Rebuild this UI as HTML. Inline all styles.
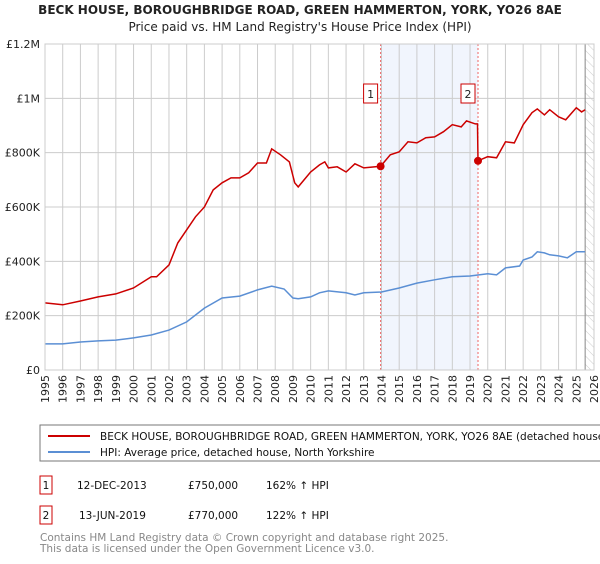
<!DOCTYPE html>
<html><head><meta charset="utf-8"><style>
body{margin:0;background:#fff;width:600px;height:560px;overflow:hidden;font-family:"DejaVu Sans","Liberation Sans",sans-serif}
svg text{font-family:"DejaVu Sans","Liberation Sans",sans-serif}
</style></head><body>
<svg id="c" width="600" height="560" xmlns="http://www.w3.org/2000/svg">
<text x="300" y="14" text-anchor="middle" font-size="12" font-weight="bold" fill="#222">BECK HOUSE, BOROUGHBRIDGE ROAD, GREEN HAMMERTON, YORK, YO26 8AE</text>
<text x="300" y="31" text-anchor="middle" font-size="12" fill="#222">Price paid vs. HM Land Registry's House Price Index (HPI)</text>
<defs><pattern id="hatch" width="6" height="6" patternUnits="userSpaceOnUse" patternTransform="rotate(-45)"><line x1="0" y1="0" x2="0" y2="6" stroke="#ccc" stroke-width="1"/></pattern></defs>
<g id="plot"></g>
<rect x="40" y="425" width="570" height="36" fill="none" stroke="#777"/>
<line x1="48" y1="436" x2="90" y2="436" stroke="#cc0000" stroke-width="2"/>
<text x="100" y="440" font-size="10.5" fill="#111">BECK HOUSE, BOROUGHBRIDGE ROAD, GREEN HAMMERTON, YORK, YO26 8AE (detached house)</text>
<line x1="48" y1="452" x2="90" y2="452" stroke="#5b8fd4" stroke-width="2"/>
<text x="100" y="456" font-size="10.5" fill="#111">HPI: Average price, detached house, North Yorkshire</text>
<g font-size="10.5" fill="#111">
<rect x="40" y="476" width="12" height="18" fill="#fff" stroke="#cc0000"/><text x="46" y="489" text-anchor="middle">1</text>
<text x="77" y="489">12-DEC-2013</text><text x="188" y="489">£750,000</text><text x="266" y="489">162% ↑ HPI</text></g>
<g font-size="10.5" fill="#111">
<rect x="40" y="506" width="12" height="18" fill="#fff" stroke="#cc0000"/><text x="46" y="519" text-anchor="middle">2</text>
<text x="79" y="519">13-JUN-2019</text><text x="188" y="519">£770,000</text><text x="266" y="519">122% ↑ HPI</text></g>
<text x="40" y="541" font-size="10.5" fill="#888">Contains HM Land Registry data © Crown copyright and database right 2025.</text>
<text x="40" y="552" font-size="10.5" fill="#888">This data is licensed under the Open Government Licence v3.0.</text>
</svg>
<script>
const yTicks=[0,200,400,600,800,1000,1200];
const yTickLabels=["£0","£200K","£400K","£600K","£800K","£1M","£1.2M"];
const years=[1995,1996,1997,1998,1999,2000,2001,2002,2003,2004,2005,2006,2007,2008,2009,2010,2011,2012,2013,2014,2015,2016,2017,2018,2019,2020,2021,2022,2023,2024,2025,2026];
const hpiT=[1995,1996,1997,1998,1999,2000,2001,2002,2003,2004,2005,2006,2007,2007.8,2008.5,2009,2009.3,2010,2010.5,2011,2012,2012.5,2013,2014,2015,2016,2017,2018,2019,2019.5,2020,2020.5,2021,2021.8,2022,2022.5,2022.8,2023.2,2023.5,2024,2024.5,2025,2025.5];
const hpiV=[96,96,103,107,110,118,129,147,177,228,265,272,295,309,298,265,262,269,284,291,284,276,284,287,302,320,332,343,346,350,354,350,376,383,405,416,435,431,424,420,413,435,435];
const propT=[1995,1996,1997,1998,1999,2000,2001,2001.3,2002,2002.5,2003,2003.5,2004,2004.5,2005,2005.5,2006,2006.5,2007,2007.5,2007.8,2008.3,2008.8,2009.1,2009.3,2010,2010.5,2010.8,2011,2011.5,2012,2012.5,2013,2013.95,2014.5,2015,2015.5,2016,2016.5,2017,2017.5,2018,2018.5,2018.8,2019.3,2019.42,2019.45,2020,2020.5,2021,2021.5,2022,2022.5,2022.8,2023.2,2023.5,2024,2024.4,2025,2025.3,2025.5];
const propV=[247,240,254,269,280,302,343,343,387,468,516,564,600,663,689,707,707,726,762,762,814,792,766,689,674,729,755,766,744,748,729,759,744,750,792,803,840,836,855,858,877,903,895,917,906,906,770,785,781,840,836,903,947,961,939,958,932,921,965,950,958];
const saleT=[2013.95,2019.45];
const saleV=[750,770];
const saleLabels=["1","2"];
const NS="http://www.w3.org/2000/svg";
const X0=45,X1=594,Y0=370,Y1=44;
const xs=t=>X0+(t-1995)/(2026-1995)*(X1-X0);
const ys=v=>Y0-v/1200*(Y0-Y1);
const g=document.getElementById('plot');
function mk(tag,a){const e=document.createElementNS(NS,tag);for(const k in a)e.setAttribute(k,a[k]);g.appendChild(e);return e;}
let r=mk('rect',{x:xs(saleT[0]),y:Y1,width:xs(saleT[1])-xs(saleT[0]),height:Y0-Y1,fill:'#eef3fd',opacity:0.8});


let h=mk('rect',{x:xs(2025.5),y:Y1,width:X1-xs(2025.5),height:Y0-Y1,fill:'url(#hatch)'});


years.forEach(y=>{let l=mk('line',{x1:xs(y),x2:xs(y),y1:Y1,y2:Y0,stroke:'#ccc','stroke-width':1});


let t=mk('text',{x:0,y:0,'font-size':11,fill:'#222','text-anchor':'end',transform:`translate(${xs(y)+4},375) rotate(-90)`});t.textContent=y;

});
yTicks.forEach((v,i)=>{let l=mk('line',{x1:X0,x2:X1,y1:ys(v),y2:ys(v),stroke:'#ccc','stroke-width':1});


let t=mk('text',{x:40,y:ys(v)+4,'font-size':11,fill:'#222','text-anchor':'end'});t.textContent=yTickLabels[i];

});
let ed=mk('line',{x1:xs(2025.5),x2:xs(2025.5),y1:Y1,y2:Y0,stroke:'#888','stroke-width':1});


saleT.forEach((t,i)=>{let l=mk('line',{x1:xs(t),x2:xs(t),y1:Y1,y2:Y0,stroke:'#e66','stroke-width':1,'stroke-dasharray':'2,2'});

});
const pts=(T,V)=>T.map((t,i)=>xs(t).toFixed(1)+','+ys(V[i]).toFixed(1)).join(' ');
let hp=mk('polyline',{points:pts(hpiT,hpiV),fill:'none',stroke:'#5b8fd4','stroke-width':1.5});


let pp=mk('polyline',{points:pts(propT,propV),fill:'none',stroke:'#cc0000','stroke-width':1.5});


saleT.forEach((t,i)=>{let c=mk('circle',{cx:xs(t),cy:ys(saleV[i]),r:4,fill:'#cc0000'});


let b=mk('rect',{x:xs(t)-17,y:84,width:14,height:19,fill:'#fff',stroke:'#cc0000'});


let tx=mk('text',{x:xs(t)-10,y:98,'font-size':11,fill:'#222','text-anchor':'middle'});tx.textContent=saleLabels[i];

});
let bx=mk('rect',{x:X0,y:Y1,width:X1-X0,height:Y0-Y1,fill:'none',stroke:'#ccc'});


</script>
</body></html>
